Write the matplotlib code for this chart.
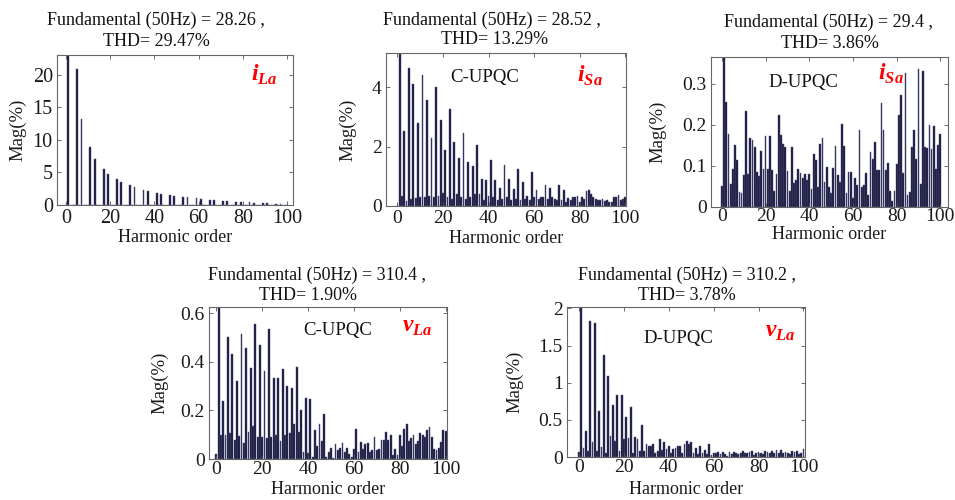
import numpy as np
import matplotlib
matplotlib.use("Agg")
import matplotlib.pyplot as plt

plt.rcParams['font.family'] = ['Liberation Serif', 'DejaVu Serif']
plt.rcParams['mathtext.fontset'] = 'custom'
plt.rcParams['mathtext.bf'] = 'Liberation Serif:italic:bold'
plt.rcParams['mathtext.rm'] = 'Liberation Serif'

orders = np.arange(0, 101)

# i_La (load current): only 6k+-1 harmonics present
ila_orders = [1, 5, 7, 11, 13, 17, 19, 23, 25, 29, 31, 35, 37, 41, 43, 47, 49,
              53, 55, 59, 61, 65, 67, 71, 73, 77, 79, 83, 85, 89, 91, 95, 97]
ila_mag = [100, 20.9, 13.2, 8.9, 7.1, 5.5, 4.8, 4.0, 3.6, 3.0, 2.75, 2.35, 2.1,
           1.9, 1.75, 1.5, 1.4, 1.2, 1.15, 1.0, 0.9, 0.75, 0.7, 0.6, 0.55,
           0.5, 0.45, 0.4, 0.35, 0.3, 0.25, 0.2, 0.15]

# i_Sa with C-UPQC
isa_c = [0.0, 100, 0.35, 2.54, 0.18, 4.66, 0.25, 4.09, 0.28, 2.78,
         0.30, 4.40, 0.30, 3.56, 0.32, 2.30, 0.30, 3.99, 0.32, 2.91,
         0.45, 1.89, 0.30, 3.26, 0.25, 2.16, 0.42, 1.63, 0.30, 2.46,
         0.25, 1.47, 0.30, 1.35, 0.42, 2.06, 0.40, 0.92, 0.20, 0.87,
         0.35, 1.55, 0.30, 0.86, 0.20, 0.60, 0.25, 1.37, 0.30, 0.92,
         0.20, 0.58, 0.25, 1.25, 0.20, 0.82, 0.25, 0.33, 0.20, 1.13,
         0.30, 0.55, 0.25, 0.30, 0.30, 0.72, 0.25, 0.60, 0.30, 0.25,
         0.20, 0.71, 0.20, 0.55, 0.15, 0.28, 0.20, 0.30, 0.30, 0.35,
         0.15, 0.30, 0.25, 0.50, 0.55, 0.40, 0.30, 0.25, 0.20, 0.20,
         0.22, 0.18, 0.20, 0.12, 0.12, 0.30, 0.30, 0.38, 0.20, 0.25, 0.30]

# i_Sa with D-UPQC
isa_d = [0.05, 100, 0.255, 0.178, 0.057, 0.093, 0.152, 0.115, 0.036, 0.034,
         0.077, 0.234, 0.081, 0.168, 0.162, 0.146, 0.085, 0.075, 0.136, 0.093,
         0.172, 0.093, 0.172, 0.090, 0.040, 0.081, 0.225, 0.174, 0.154, 0.146,
         0.087, 0.040, 0.146, 0.058, 0.065, 0.093, 0.083, 0.070, 0.081, 0.065,
         0.081, 0.043, 0.130, 0.115, 0.049, 0.154, 0.168, 0.061, 0.097, 0.049,
         0.035, 0.095, 0.148, 0.077, 0.061, 0.203, 0.148, 0.035, 0.085, 0.085,
         0.022, 0.070, 0.054, 0.187, 0.049, 0.054, 0.083, 0.030, 0.134, 0.116,
         0.158, 0.089, 0.089, 0.253, 0.187, 0.089, 0.108, 0.040, 0.014, 0.040,
         0.105, 0.223, 0.272, 0.083, 0.326, 0.030, 0.036, 0.146, 0.187, 0.118,
         0.337, 0.057, 0.331, 0.146, 0.143, 0.199, 0.142, 0.197, 0.093, 0.150, 0.178]

# v_La with C-UPQC
vla_c = [0.02, 100, 0.10, 0.24, 0.10, 0.50, 0.105, 0.43, 0.08, 0.32,
         0.095, 0.515, 0.065, 0.455, 0.11, 0.375, 0.135, 0.555, 0.09, 0.47,
         0.09, 0.36, 0.085, 0.535, 0.09, 0.335, 0.10, 0.335, 0.075, 0.37,
         0.10, 0.30, 0.105, 0.29, 0.145, 0.38, 0.11, 0.20, 0.03, 0.25,
         0.025, 0.245, 0.01, 0.12, 0.055, 0.145, 0.075, 0.185, 0.01, 0.03,
         0.045, 0.005, 0.06, 0.035, 0.045, 0.065, 0.03, 0.045, 0.02, 0.01,
         0.04, 0.125, 0.03, 0.07, 0.04, 0.06, 0.065, 0.03, 0.035, 0.09,
         0.035, 0.04, 0.08, 0.08, 0.11, 0.08, 0.10, 0.015, 0.04, 0.015,
         0.10, 0.055, 0.125, 0.145, 0.075, 0.085, 0.10, 0.06, 0.075, 0.105,
         0.10, 0.09, 0.12, 0.13, 0.09, 0.04, 0.035, 0.045, 0.07, 0.12, 0.115]

# v_La with D-UPQC
vla_d = [0.07, 100, 0.12, 0.35, 0.08, 1.83, 0.20, 1.80, 0.08, 0.62,
         0.14, 1.37, 0.06, 1.09, 0.28, 0.70, 0.22, 0.83, 0.08, 0.84,
         0.24, 0.54, 0.25, 0.67, 0.06, 0.27, 0.24, 0.08, 0.43, 0.08,
         0.18, 0.15, 0.15, 0.17, 0.06, 0.08, 0.24, 0.09, 0.20, 0.11,
         0.15, 0.06, 0.11, 0.12, 0.15, 0.15, 0.06, 0.17, 0.22, 0.18,
         0.20, 0.06, 0.12, 0.04, 0.15, 0.05, 0.09, 0.04, 0.17, 0.03,
         0.05, 0.06, 0.07, 0.04, 0.07, 0.04, 0.02, 0.07, 0.04, 0.07,
         0.05, 0.04, 0.05, 0.08, 0.06, 0.05, 0.07, 0.08, 0.03, 0.06,
         0.07, 0.05, 0.04, 0.08, 0.07, 0.06, 0.08, 0.05, 0.09, 0.06,
         0.10, 0.05, 0.07, 0.06, 0.04, 0.08, 0.07, 0.08, 0.04, 0.05, 0.11]

ila = np.zeros(len(orders))
ila[ila_orders] = ila_mag

W, H = 955, 500


def rect(l, t, r, b):
    return [l / W, 1 - b / H, (r - l) / W, (b - t) / H]


panels = [
    dict(data=ila, box=(57, 55, 293, 205), xlim=(-4.1, 102.7), ylim=(0, 23),
         yticks=[0, 5, 10, 15, 20], ylabels=['0', '5', '10', '15', '20'],
         t1=("Fundamental (50Hz) = 28.26 ,", 156, 20), t2=("THD= 29.47%", 156, 42),
         sig=r'$\mathbf{i}_{\mathbf{La}}$', sigpos=(0.88, 0.865), tag=None,
         ylab=39, xlab=33, tsize=14.5, xpad=3),
    dict(data=isa_c, box=(386, 53, 626, 206), xlim=(-5, 100.3), ylim=(0, 5.15),
         yticks=[0, 2, 4], ylabels=['0', '2', '4'],
         t1=("Fundamental (50Hz) = 28.52 ,", 492, 20), t2=("THD= 13.29%", 495, 40),
         sig=r'$\mathbf{i}_{\mathbf{Sa}}$', sigpos=(0.85, 0.85), tag=("C-UPQC", 0.41, 0.84),
         ylab=38, xlab=33, tsize=14, xpad=3),
    dict(data=isa_d, box=(711, 57, 948, 207), xlim=(-5, 103.5), ylim=(0, 0.365),
         yticks=[0, 0.1, 0.2, 0.3], ylabels=['0', '0.1', '0.2', '0.3'],
         t1=("Fundamental (50Hz) = 29.4 ,", 829, 22), t2=("THD= 3.86%", 830, 43),
         sig=r'$\mathbf{i}_{\mathbf{Sa}}$', sigpos=(0.76, 0.885), tag=("D-UPQC", 0.39, 0.83),
         ylab=53, xlab=28, tsize=14, xpad=0.5),
    dict(data=vla_c, box=(209, 307, 447, 459), xlim=(-3.2, 100.6), ylim=(0, 0.625),
         yticks=[0, 0.2, 0.4, 0.6], ylabels=['0', '0.2', '0.4', '0.6'],
         t1=("Fundamental (50Hz) = 310.4 ,", 317, 275), t2=("THD= 1.90%", 308, 295),
         sig=r'$\mathbf{v}_{\mathbf{La}}$', sigpos=(0.875, 0.865), tag=("C-UPQC", 0.54, 0.845),
         ylab=49, xlab=31, tsize=14, xpad=1.5),
    dict(data=vla_d, box=(567, 307, 805, 457), xlim=(-5.4, 100.7), ylim=(0, 2.02),
         yticks=[0, 0.5, 1, 1.5, 2], ylabels=['0', '0.5', '1', '1.5', '2'],
         t1=("Fundamental (50Hz) = 310.2 ,", 687, 275), t2=("THD= 3.78%", 687, 295),
         sig=r'$\mathbf{v}_{\mathbf{La}}$', sigpos=(0.895, 0.83), tag=("D-UPQC", 0.466, 0.79),
         ylab=52, xlab=33, tsize=14, xpad=1.5),
]

fig = plt.figure(figsize=(9.55, 5.0), dpi=100)

for p in panels:
    l, t, r, b = p['box']
    ax = fig.add_axes(rect(l, t, r, b))
    ax.bar(orders, p['data'], width=0.8, color='#111132', edgecolor='#5e5e8c',
           linewidth=0.35)
    ax.set_xlim(*p['xlim'])
    ax.set_ylim(*p['ylim'])
    ax.set_xticks([0, 20, 40, 60, 80, 100])
    ax.set_yticks(p['yticks'])
    ax.set_yticklabels(p['ylabels'])
    ax.tick_params(direction='in', length=3, width=0.6, labelsize=p['tsize'],
                   top=True, right=True, colors='#555555', labelcolor='#1a1a1a')
    ax.tick_params(axis='x', pad=p['xpad'])
    ax.tick_params(axis='y', pad=3)
    for s in ax.spines.values():
        s.set_color('#666666')
        s.set_linewidth(0.8)
    ax.set_xlabel("Harmonic order", fontsize=13, color='#1a1a1a')
    ax.set_ylabel("Mag(%)", fontsize=13.5, color='#1a1a1a')
    ax.xaxis.set_label_coords(0.5, -(p['xlab'] / (b - t)))
    ax.xaxis.label.set_va('center')
    ax.yaxis.label.set_va('center')
    ax.yaxis.set_label_coords(-(p['ylab'] / (r - l)), 0.5)
    ax.text(p['sigpos'][0], p['sigpos'][1], p['sig'], transform=ax.transAxes,
            color='red', fontsize=17, ha='center', va='center')
    if p['tag']:
        ax.text(p['tag'][1], p['tag'][2], p['tag'][0], transform=ax.transAxes,
                fontsize=13.5, ha='center', va='center', color='#111111')
    for txt, x, y in (p['t1'], p['t2']):
        fig.text(x / W, 1 - y / H, txt, fontsize=13, ha='center', va='center',
                 color='#111111')

fig.savefig("out.png", dpi=100)
